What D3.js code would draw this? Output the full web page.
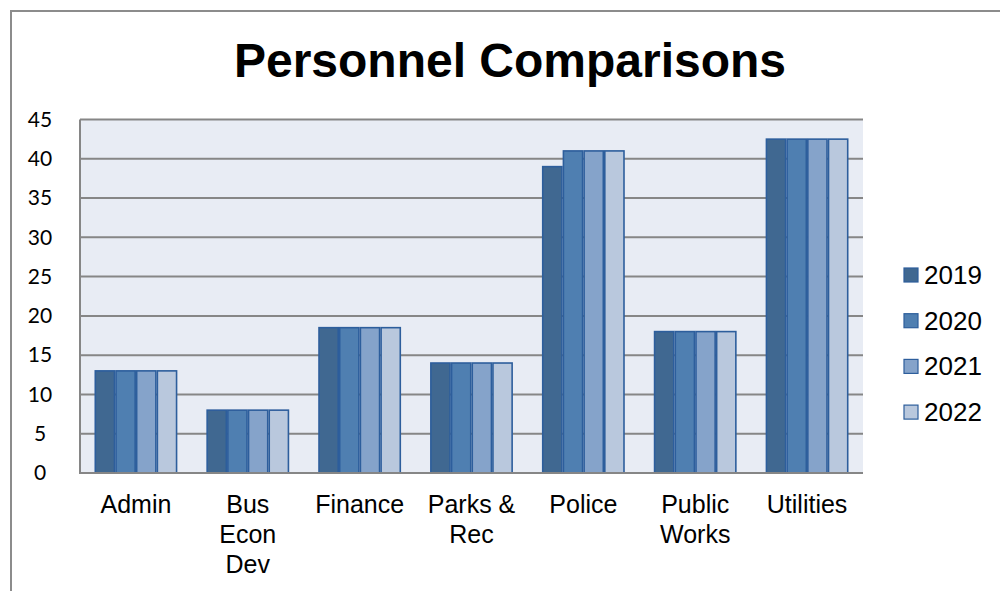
<!DOCTYPE html>
<html>
<head>
<meta charset="utf-8">
<script src="https://cdn.jsdelivr.net/npm/d3@7"></script>
<style>
  html, body { margin: 0; padding: 0; background: #fff; }
  svg { display: block; }
</style>
</head>
<body>
<svg id="chart" width="1000" height="591"></svg>
<script>
// Headcount by department, 2019–2022
const departments = ["Admin", "Bus Econ Dev", "Finance", "Parks & Rec", "Police", "Public Works", "Utilities"];
const departmentLines = [["Admin"], ["Bus", "Econ", "Dev"], ["Finance"], ["Parks &", "Rec"], ["Police"], ["Public", "Works"], ["Utilities"]];
const years = ["2019", "2020", "2021", "2022"];
const values2019 = [13, 8, 18.5, 14, 39, 18, 42.5];
const values2020 = [13, 8, 18.5, 14, 41, 18, 42.5];
const values2021 = [13, 8, 18.5, 14, 41, 18, 42.5];
const values2022 = [13, 8, 18.5, 14, 41, 18, 42.5];
const yTicks = [0, 5, 10, 15, 20, 25, 30, 35, 40, 45];
const seriesColors = ["#406891", "#4f7fb1", "#85a3ca", "#b9c8dd"];

const series = [values2019, values2020, values2021, values2022];

const svg = d3.select("#chart");
const plot = { left: 80, right: 863, top: 119.5, bottom: 473 };

// outer frame
svg.append("rect")
  .attr("x", 11).attr("y", 11)
  .attr("width", 1100).attr("height", 700)
  .attr("fill", "none").attr("stroke", "#8c8c8c").attr("stroke-width", 2);

// title
svg.append("text")
  .attr("x", 510).attr("y", 77)
  .attr("text-anchor", "middle")
  .attr("font-family", "Liberation Sans, Arial, sans-serif")
  .attr("font-weight", "bold").attr("font-size", 48)
  .attr("fill", "#000")
  .text("Personnel Comparisons");

const x0 = d3.scaleBand().domain(departments).range([plot.left, plot.right]).paddingInner(0.26).paddingOuter(0.13);
const x1 = d3.scaleBand().domain(years).range([0, x0.bandwidth()]);
const y = d3.scaleLinear().domain([0, 45]).range([plot.bottom, plot.top]);

// plot background
svg.append("rect")
  .attr("x", plot.left).attr("y", plot.top)
  .attr("width", plot.right - plot.left).attr("height", plot.bottom - plot.top)
  .attr("fill", "#e8ecf4");

// gridlines
svg.append("g").selectAll("line")
  .data(yTicks.filter(d => d > 0))
  .join("line")
  .attr("x1", plot.left).attr("x2", plot.right)
  .attr("y1", d => y(d)).attr("y2", d => y(d))
  .attr("stroke", "#868686").attr("stroke-width", 2);

// bars
const groups = svg.append("g").selectAll("g")
  .data(departments)
  .join("g")
  .attr("transform", d => `translate(${x0(d)},0)`);

groups.selectAll("rect")
  .data((d, i) => years.map((yr, k) => ({ yr, k, v: series[k][i] })))
  .join("rect")
  .attr("x", d => x1(d.yr) + 0.75)
  .attr("width", x1.bandwidth() - 1.5)
  .attr("y", d => y(d.v))
  .attr("height", d => y(0) - y(d.v))
  .attr("fill", d => seriesColors[d.k])
  .attr("stroke", "#2d5e9c").attr("stroke-width", 1.6);

// axis lines
svg.append("line")
  .attr("x1", plot.left).attr("x2", plot.left)
  .attr("y1", plot.top).attr("y2", plot.bottom)
  .attr("stroke", "#868686").attr("stroke-width", 2);
svg.append("line")
  .attr("x1", plot.left - 1).attr("x2", plot.right)
  .attr("y1", plot.bottom).attr("y2", plot.bottom)
  .attr("stroke", "#868686").attr("stroke-width", 2);

// y tick labels
const yAxis = d3.axisLeft(y).tickValues(yTicks).tickSize(0).tickPadding(0);
const ya = svg.append("g").attr("transform", `translate(${plot.left},0)`).call(yAxis);
ya.select(".domain").remove();
ya.selectAll("text")
  .attr("font-family", "Lato, Open Sans, sans-serif")
  .attr("font-size", 21).attr("fill", "#000")
  .attr("text-anchor", "middle").attr("x", -40);

// category labels
const cat = svg.append("g");
departments.forEach((d, i) => {
  const t = cat.append("text")
    .attr("x", x0(d) + x0.bandwidth() / 2)
    .attr("y", 513)
    .attr("text-anchor", "middle")
    .attr("font-family", "Liberation Sans, Arial, sans-serif")
    .attr("font-size", 25).attr("fill", "#000");
  departmentLines[i].forEach((line, j) => {
    t.append("tspan").attr("x", x0(d) + x0.bandwidth() / 2).attr("dy", j === 0 ? 0 : 30).text(line);
  });
});

// legend
const legend = svg.append("g").selectAll("g")
  .data(years)
  .join("g")
  .attr("transform", (d, i) => `translate(904,${275 + i * 45.7})`);
legend.append("rect")
  .attr("x", 0).attr("y", -7).attr("width", 14).attr("height", 14)
  .attr("fill", (d, i) => seriesColors[i])
  .attr("stroke", "#2d5e9c").attr("stroke-width", 1.2);
legend.append("text")
  .attr("x", 20).attr("y", 9)
  .attr("font-family", "Liberation Sans, Arial, sans-serif")
  .attr("font-size", 26).attr("fill", "#000")
  .text(d => d);
</script>
</body>
</html>
